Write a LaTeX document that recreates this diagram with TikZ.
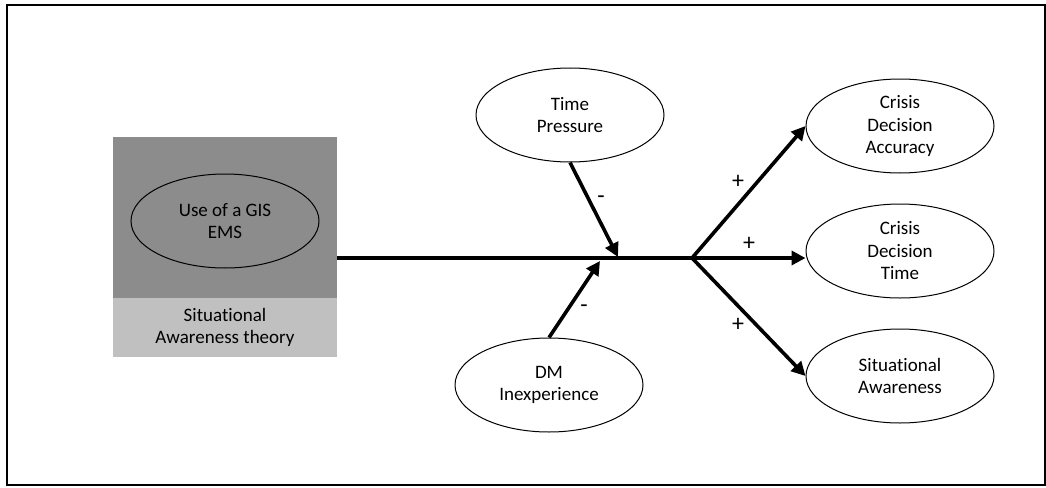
\documentclass[tikz,border=0pt]{standalone}
\usepackage{fontspec}
\setmainfont{Carlito}[Ligatures=CommonOff]
\usetikzlibrary{arrows.meta}
\usetikzlibrary{shapes.geometric}
\definecolor{boxdark}{RGB}{140,140,140}
\definecolor{boxlight}{RGB}{192,192,192}

\begin{document}
\begin{tikzpicture}[x=1pt, y=-1pt,
	construct/.style={ellipse, draw, line width=1pt, minimum width=188pt, minimum height=94pt, align=center, font=\fontsize{19}{22.5}\selectfont, inner sep=0pt},
	path/.style={line width=3.6pt, -{Triangle[length=14pt,width=14pt]}},
	sign/.style={font=\fontsize{24}{24}\selectfont, inner sep=1pt}]
	
	\useasboundingbox (0,0) rectangle (1046,487);
	\draw[line width=1.4pt] (7,5) rectangle (1045,485);
	
	% theory box
	\node[rectangle, fill=boxdark, minimum width=224pt, minimum height=161pt, inner sep=0pt](theory) at (225,217.5){};
	\node[rectangle, fill=boxlight, minimum width=224pt, minimum height=59pt, inner sep=0pt, align=center, font=\fontsize{19}{22.5}\selectfont](sat) at (225,327.5){Situational\\Awareness theory};
	\node[construct](gis) at (225,221){Use of a GIS\\EMS};
	
	% moderators and outcomes
	\node[construct](tp) at (570,115){Time\\Pressure};
	\node[construct](dm) at (549,385){DM\\Inexperience};
	\node[construct](cda) at (900,126){Crisis\\Decision\\Accuracy};
	\node[construct](cdt) at (900,251){Crisis\\Decision\\Time};
	\node[construct](sa) at (900,376){Situational\\Awareness};
	
	\coordinate (src) at (337,258);
	\coordinate (branch) at (692,258);
	\coordinate (tp_in) at (618,257);
	\coordinate (dm_in) at (600,261);
	
	\draw[line width=3.6pt] (src) -- (branch);
	\draw[path] (tp.south) -- (tp_in);
	\draw[path] (dm.north) -- (dm_in);
	\draw[path] (branch) -- (cda.west);
	\draw[path] (branch) -- (branch -| cdt.west);
	\draw[path] (branch) -- (sa.west);
	
	\node[sign](tp_sign) at (601,200){-};
	\node[sign](dm_sign) at (584,309){-};
	\node[sign](cda_sign) at (738,182){+};
	\node[sign](cdt_sign) at (749,244){+};
	\node[sign](sa_sign) at (738,325){+};
\end{tikzpicture}
\end{document}
